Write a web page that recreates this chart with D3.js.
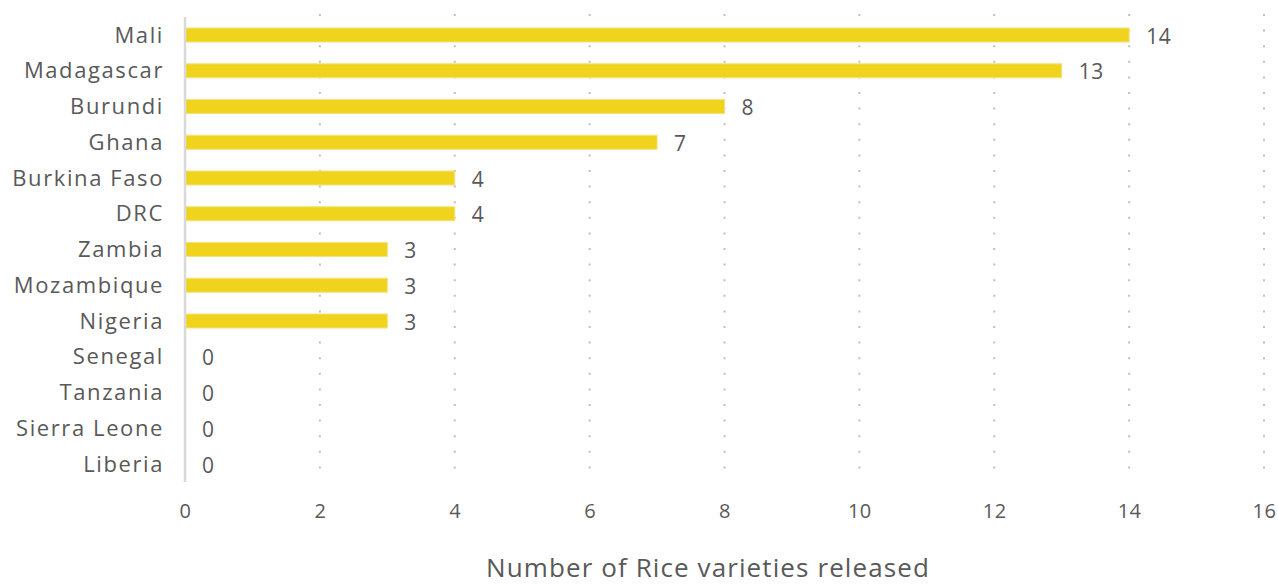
<!DOCTYPE html>
<html>
<head>
<meta charset="utf-8">
<script src="https://cdn.jsdelivr.net/npm/d3@7"></script>
<style>
  html, body { margin: 0; padding: 0; background: #fff; }
  svg { display: block; }
  text { font-family: "Open Sans", Lato, sans-serif; fill: #595959; }
</style>
</head>
<body>
<svg id="chart" width="1278" height="585"></svg>
<script>
// Rice varieties released per country
const countries = ["Mali", "Madagascar", "Burundi", "Ghana", "Burkina Faso", "DRC",
  "Zambia", "Mozambique", "Nigeria", "Senegal", "Tanzania", "Sierra Leone", "Liberia"];
const varieties = [14, 13, 8, 7, 4, 4, 3, 3, 3, 0, 0, 0, 0];
const xTicks = [0, 2, 4, 6, 8, 10, 12, 14, 16];
const axisTitle = "Number of Rice varieties released";

(function draw() {
  const svg = d3.select("#chart");
  const plotLeft = 185, plotRight = 1264, plotTop = 17, plotBottom = 482;
  const barH = 14;
  const font = "'Open Sans', Lato, sans-serif";

  const x = d3.scaleLinear().domain([0, 16]).range([plotLeft, plotRight]);
  // row centres
  const y = d3.scalePoint().domain(countries).range([35, 464]);

  // dotted vertical gridlines
  svg.append("g").selectAll("line").data(xTicks.filter(d => d > 0)).join("line")
    .attr("x1", d => x(d)).attr("x2", d => x(d))
    .attr("y1", 14).attr("y2", 476)
    .attr("stroke", "#bfbfbf").attr("stroke-width", 2)
    .attr("stroke-dasharray", "2,13.6");

  // bars
  svg.append("g").selectAll("rect").data(countries).join("rect")
    .attr("x", x(0))
    .attr("y", d => y(d) - barH / 2)
    .attr("width", (d, i) => x(varieties[i]) - x(0))
    .attr("height", barH)
    .attr("fill", "#f0d31c")
    .attr("stroke", "#f5e27a").attr("stroke-width", 1);

  // vertical baseline
  svg.append("line")
    .attr("x1", x(0)).attr("x2", x(0)).attr("y1", plotTop).attr("y2", plotBottom)
    .attr("stroke", "#d9d9d9").attr("stroke-width", 2.5);

  // value labels
  svg.append("g").selectAll("text").data(countries).join("text")
    .attr("x", (d, i) => x(varieties[i]) + 17)
    .attr("y", d => y(d) + 3)
    .attr("dominant-baseline", "middle")
    .attr("font-size", 21)
    .attr("letter-spacing", "0.5px")
    .text((d, i) => varieties[i]);

  // category labels
  const yAxis = d3.axisLeft(y).tickSize(0).tickPadding(21);
  const gy = svg.append("g").attr("transform", `translate(${x(0)},0)`).call(yAxis);
  gy.select(".domain").remove();
  gy.selectAll("text").attr("font-size", 22).attr("letter-spacing", "1.6px")
    .style("font-family", font).attr("fill", "#595959");

  // x axis tick labels
  const xAxis = d3.axisBottom(x).tickValues(xTicks).tickSize(0).tickPadding(0).tickFormat(d3.format("d"));
  const gx = svg.append("g").attr("transform", `translate(0,${plotBottom + 22})`).call(xAxis);
  gx.select(".domain").remove();
  gx.selectAll("text").attr("font-size", 20).attr("letter-spacing", "0.5px")
    .style("font-family", font).attr("fill", "#595959");

  // axis title
  svg.append("text")
    .attr("x", 708).attr("y", 577)
    .attr("text-anchor", "middle")
    .attr("font-size", 26)
    .attr("letter-spacing", "1.1px")
    .text(axisTitle);
})();
</script>
</body>
</html>
